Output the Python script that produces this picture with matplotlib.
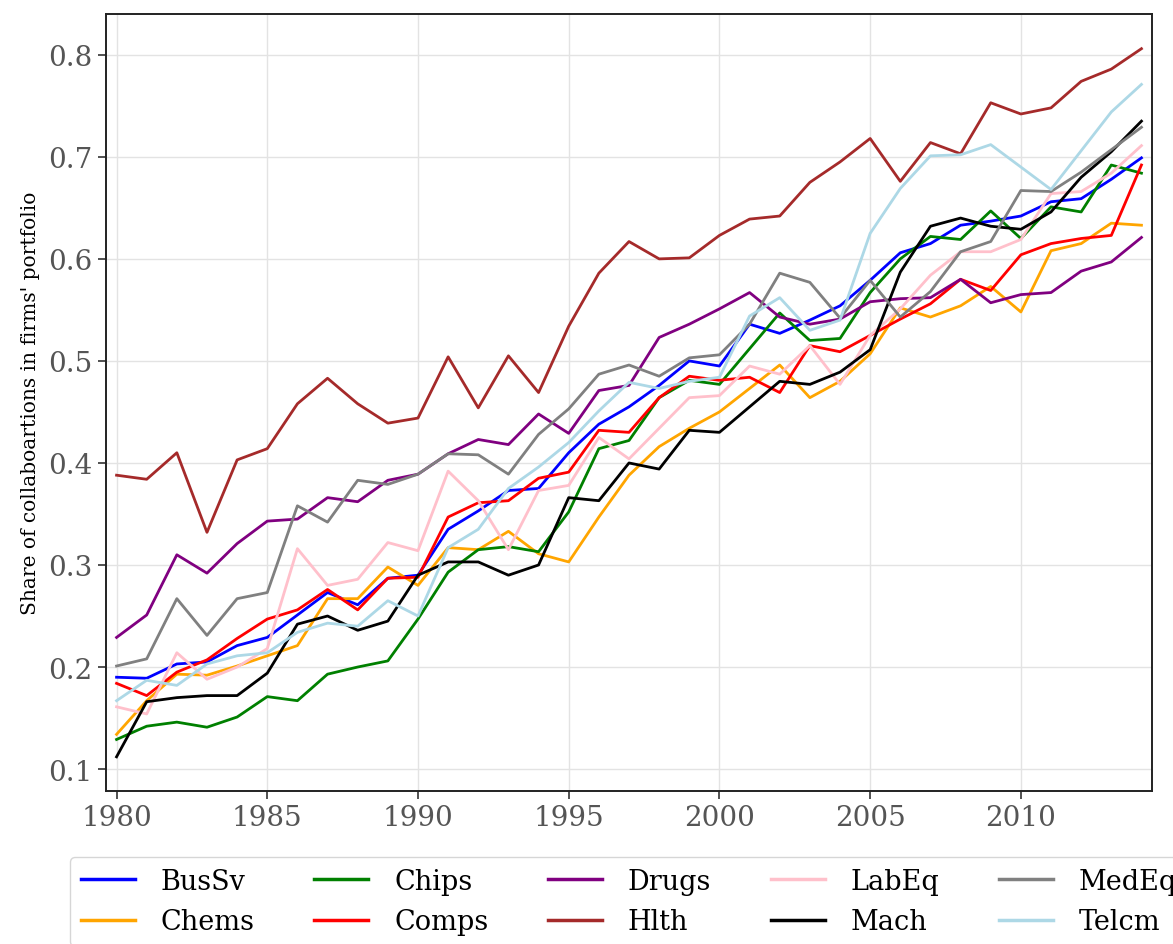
import matplotlib
matplotlib.use("Agg")
import matplotlib.pyplot as plt

years = list(range(1980, 2015))

bussv = [0.190, 0.189, 0.203, 0.205, 0.221, 0.229, 0.251, 0.273, 0.261, 0.287,
         0.290, 0.335, 0.353, 0.373, 0.375, 0.410, 0.438, 0.455, 0.476, 0.500,
         0.495, 0.536, 0.527, 0.540, 0.554, 0.579, 0.606, 0.615, 0.633, 0.637,
         0.642, 0.656, 0.659, 0.678, 0.699]
chems = [0.134, 0.167, 0.193, 0.192, 0.201, 0.211, 0.221, 0.267, 0.267, 0.298,
         0.280, 0.317, 0.315, 0.333, 0.311, 0.303, 0.347, 0.388, 0.416, 0.434,
         0.450, 0.473, 0.496, 0.464, 0.480, 0.507, 0.552, 0.543, 0.554, 0.573,
         0.548, 0.608, 0.615, 0.635, 0.633]
chips = [0.129, 0.142, 0.146, 0.141, 0.151, 0.171, 0.167, 0.193, 0.200, 0.206,
         0.247, 0.293, 0.315, 0.318, 0.313, 0.352, 0.414, 0.422, 0.464, 0.481,
         0.477, 0.512, 0.547, 0.520, 0.522, 0.567, 0.600, 0.622, 0.619, 0.647,
         0.620, 0.651, 0.646, 0.692, 0.684]
comps = [0.184, 0.172, 0.195, 0.207, 0.228, 0.247, 0.256, 0.276, 0.256, 0.287,
         0.288, 0.347, 0.361, 0.363, 0.385, 0.391, 0.432, 0.430, 0.464, 0.485,
         0.481, 0.484, 0.469, 0.515, 0.509, 0.525, 0.541, 0.556, 0.580, 0.569,
         0.604, 0.615, 0.620, 0.623, 0.692]
drugs = [0.229, 0.251, 0.310, 0.292, 0.321, 0.343, 0.345, 0.366, 0.362, 0.383,
         0.389, 0.409, 0.423, 0.418, 0.448, 0.429, 0.471, 0.476, 0.523, 0.536,
         0.551, 0.567, 0.543, 0.536, 0.541, 0.558, 0.561, 0.562, 0.580, 0.557,
         0.565, 0.567, 0.588, 0.597, 0.621]
hlth = [0.388, 0.384, 0.410, 0.332, 0.403, 0.414, 0.458, 0.483, 0.458, 0.439,
        0.444, 0.504, 0.454, 0.505, 0.469, 0.534, 0.586, 0.617, 0.600, 0.601,
        0.623, 0.639, 0.642, 0.675, 0.695, 0.718, 0.676, 0.714, 0.703, 0.753,
        0.742, 0.748, 0.774, 0.786, 0.806]
labeq = [0.161, 0.154, 0.214, 0.188, 0.200, 0.218, 0.316, 0.280, 0.286, 0.322,
         0.314, 0.392, 0.363, 0.315, 0.373, 0.378, 0.425, 0.404, 0.434, 0.464,
         0.466, 0.495, 0.487, 0.515, 0.477, 0.525, 0.551, 0.584, 0.607, 0.607,
         0.619, 0.664, 0.666, 0.684, 0.711]
mach = [0.112, 0.166, 0.170, 0.172, 0.172, 0.194, 0.242, 0.250, 0.236, 0.245,
        0.290, 0.303, 0.303, 0.290, 0.300, 0.366, 0.363, 0.400, 0.394, 0.432,
        0.430, 0.455, 0.480, 0.477, 0.489, 0.511, 0.587, 0.632, 0.640, 0.632,
        0.629, 0.646, 0.680, 0.705, 0.735]
medeq = [0.201, 0.208, 0.267, 0.231, 0.267, 0.273, 0.358, 0.342, 0.383, 0.379,
         0.389, 0.409, 0.408, 0.389, 0.428, 0.453, 0.487, 0.496, 0.485, 0.503,
         0.506, 0.536, 0.586, 0.577, 0.542, 0.579, 0.543, 0.568, 0.607, 0.617,
         0.667, 0.666, 0.685, 0.707, 0.729]
telcm = [0.167, 0.187, 0.182, 0.203, 0.211, 0.214, 0.234, 0.243, 0.240, 0.265,
         0.250, 0.317, 0.335, 0.375, 0.396, 0.420, 0.451, 0.479, 0.473, 0.480,
         0.484, 0.544, 0.562, 0.530, 0.540, 0.625, 0.669, 0.701, 0.702, 0.712,
         0.690, 0.668, 0.706, 0.744, 0.771]

labels = ["BusSv", "Chems", "Chips", "Comps", "Drugs",
          "Hlth", "LabEq", "Mach", "MedEq", "Telcm"]
series = [bussv, chems, chips, comps, drugs, hlth, labeq, mach, medeq, telcm]
colors = ["blue", "orange", "green", "red", "purple",
          "brown", "pink", "black", "gray", "lightblue"]

plt.rcParams["font.family"] = ["DejaVu Serif"]

fig = plt.figure(figsize=(11.73, 9.45), dpi=100)
ax = fig.add_axes([106 / 1173, 1 - 792 / 945, (1152 - 106) / 1173, (792 - 15) / 945])

for lab, vals, col in zip(labels, series, colors):
    ax.plot(years, vals, color=col, lw=2.0, label=lab)

ax.set_xlim(1979.65, 2014.35)
ax.set_ylim(0.0785, 0.840)
ax.set_xticks([1980, 1985, 1990, 1995, 2000, 2005, 2010])
ax.set_yticks([0.1, 0.2, 0.3, 0.4, 0.5, 0.6, 0.7, 0.8])
ax.grid(True, color="#e3e3e3", lw=1.0)
ax.set_axisbelow(True)
ax.tick_params(axis="both", labelsize=20, labelcolor="#555555",
               color="#333333", length=6, width=1.2)
for sp in ax.spines.values():
    sp.set_linewidth(1.4)
    sp.set_color("#222222")

ax.set_ylabel("Share of collaboartions in firms' portfolio", fontsize=14.5,
              labelpad=6)

leg = fig.legend(loc="upper left", bbox_to_anchor=(70 / 1173, 1 - 858 / 945),
                 ncol=5, fontsize=19.5, frameon=True, handlelength=2.0,
                 columnspacing=2.2, handletextpad=0.95, labelspacing=0.5,
                 borderaxespad=0.0)
for h in leg.get_lines():
    h.set_linewidth(2.5)

fig.savefig("out.png", dpi=100)
